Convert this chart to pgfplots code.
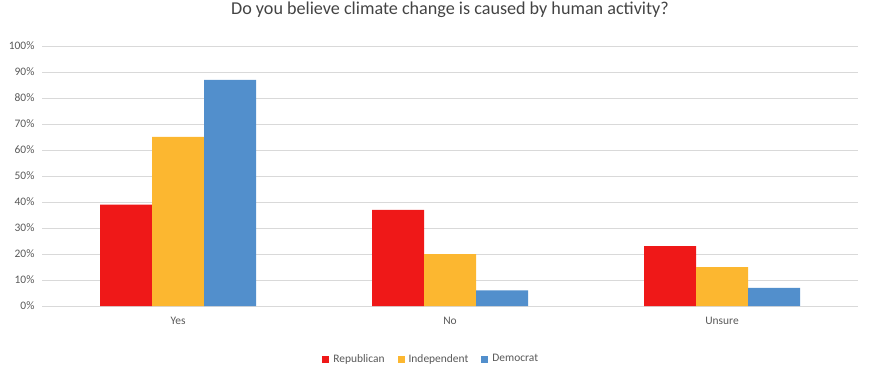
\documentclass[border=0pt]{standalone}
\usepackage{pgfplots}
\pgfplotsset{compat=1.18}
\usepackage{fontspec}
\setmainfont{Carlito}
\definecolor{rep}{RGB}{239,24,24}
\definecolor{ind}{RGB}{252,183,48}
\definecolor{dem}{RGB}{82,143,204}
\definecolor{gridc}{RGB}{217,217,217}
\definecolor{txt}{RGB}{89,89,89}
\begin{document}
\begin{tikzpicture}[x=1bp,y=1bp]
\useasboundingbox (-42bp,-66bp) rectangle (836bp,306bp);
\begin{axis}[
  scale only axis,
  width=816bp, height=260bp,
  at={(0,0)}, anchor=south west,
  ybar=0pt, bar width=52bp,
  xmin=-0.5, xmax=2.5,
  ymin=0, ymax=100,
  xtick={0,1,2}, xticklabels={Yes,No,Unsure},
  ytick={0,10,...,100},
  yticklabel={\pgfmathprintnumber{\tick}\%},
  /pgf/number format/assume math mode=true,
  ymajorgrids, grid style={gridc, line width=0.8pt},
  axis line style={draw=none},
  major tick length=0pt,
  tick label style={font=\fontsize{11.5}{13}\selectfont, text=txt},
  yticklabel style={xshift=-4bp},
  xticklabel style={yshift=-8bp},
  title={Do you believe climate change is caused by human activity?},
  title style={font=\fontsize{18.2}{20}\selectfont, text=txt!75!black, at={(0.5,1)}, anchor=base, yshift=26bp},
  legend style={at={(0.477,-0.204)}, anchor=center, draw=none, legend columns=-1,
    font=\fontsize{11.5}{13}\selectfont, text=txt,
    /tikz/every odd column/.append style={column sep=2bp},
    /tikz/every even column/.append style={column sep=11bp},
    /tikz/every node/.append style={inner xsep=2bp}},
  legend image code/.code={\fill[#1] (0bp,-3.5bp) rectangle (7bp,3.5bp);},
]
\addplot[fill=rep, draw=none] coordinates {(0,39) (1,37) (2,23)};
\addplot[fill=ind, draw=none] coordinates {(0,65) (1,20) (2,15)};
\addplot[fill=dem, draw=none] coordinates {(0,87) (1,6) (2,7)};
\legend{Republican,Independent,Democrat}
\end{axis}
\end{tikzpicture}
\end{document}
